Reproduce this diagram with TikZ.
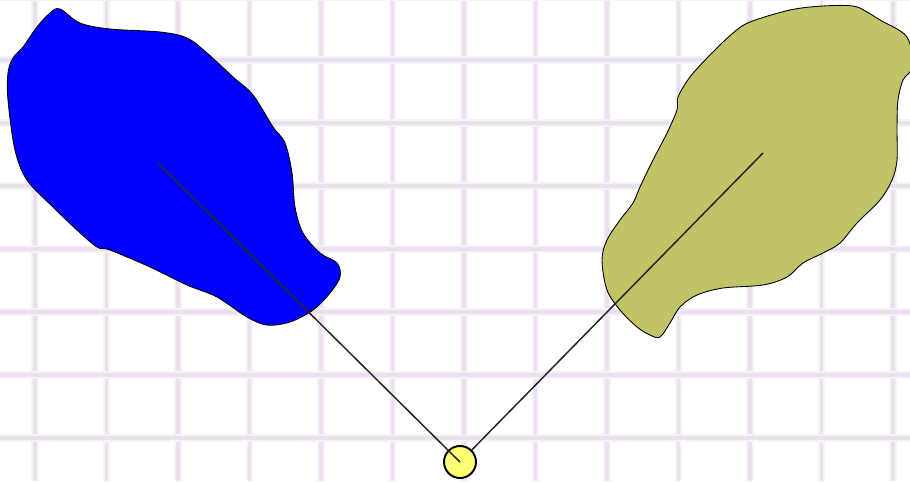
\documentclass[tikz,border=0pt]{standalone}
\usetikzlibrary{calc}
\definecolor{gridlav}{RGB}{235,224,237}
\definecolor{gridhalo}{RGB}{247,242,248}
\definecolor{olivefill}{RGB}{194,194,102}
\definecolor{pivotfill}{RGB}{255,255,118}

\begin{document}
\begin{tikzpicture}[x=0.02cm, y=-0.02cm]
        \useasboundingbox (0,0) rectangle (910,481);
        \clip (0,0) rectangle (910,481);
        \fill[white] (0,0) rectangle (910,481);

        % grid
        \foreach \gx in {35,106.5,...,910} {
            \draw[gridhalo, line width=4pt] (\gx,0) -- (\gx,481);
            \draw[gridlav, line width=1.8pt] (\gx,0) -- (\gx,481);
        }
        \foreach \gy in {-3,60,...,481} {
            \draw[gridhalo, line width=4pt] (0,\gy) -- (910,\gy);
            \draw[gridlav, line width=1.8pt] (0,\gy) -- (910,\gy);
        }

        % blobs
        \draw[fill=blue, line width=0.5pt] plot[smooth cycle, tension=0.55] coordinates {
            (60,9) (80,23) (110,29) (160,32) (187,38) (207,53) (233,77) (253,95)
            (273,127) (285,143) (292,173) (295,207) (303,233) (320,253) (337,263)
            (340,277) (330,293) (313,310) (290,322) (267,325) (247,317) (217,297)
            (187,285) (150,267) (110,250) (97,247) (77,230) (53,207) (27,180)
            (15,150) (8,100) (8,73) (13,58) (23,47) (37,27) (50,13)};
        \draw[fill=olivefill, line width=0.5pt] plot[smooth cycle, tension=0.55] coordinates {
            (750,22) (790,10) (823,6) (853,6) (867,12) (880,20) (907,37) (912,67)
            (903,80) (898,100) (897,127) (897,160) (892,180) (880,200) (857,223)
            (840,243) (823,253) (803,263) (787,277) (763,285) (723,288) (697,295)
            (680,307) (670,323) (660,337) (650,335) (637,327) (620,310) (607,290)
            (602,260) (607,240) (620,220) (633,203) (640,187) (653,160) (667,133)
            (677,110) (678,97) (690,77) (710,55) (733,33)};

        \coordinate (b) at (158,163);
        \coordinate (o) at (763,153);
        \node (p) at (460,462) [draw, circle, line width=1.1pt, fill=pivotfill, inner sep=0pt, minimum size=0.64cm] {};

        \draw[line width=0.85pt, black!85] (p) -- (o);
        \draw[line width=0.85pt, black!85] (b) -- (p.center);
\end{tikzpicture}
\end{document}
